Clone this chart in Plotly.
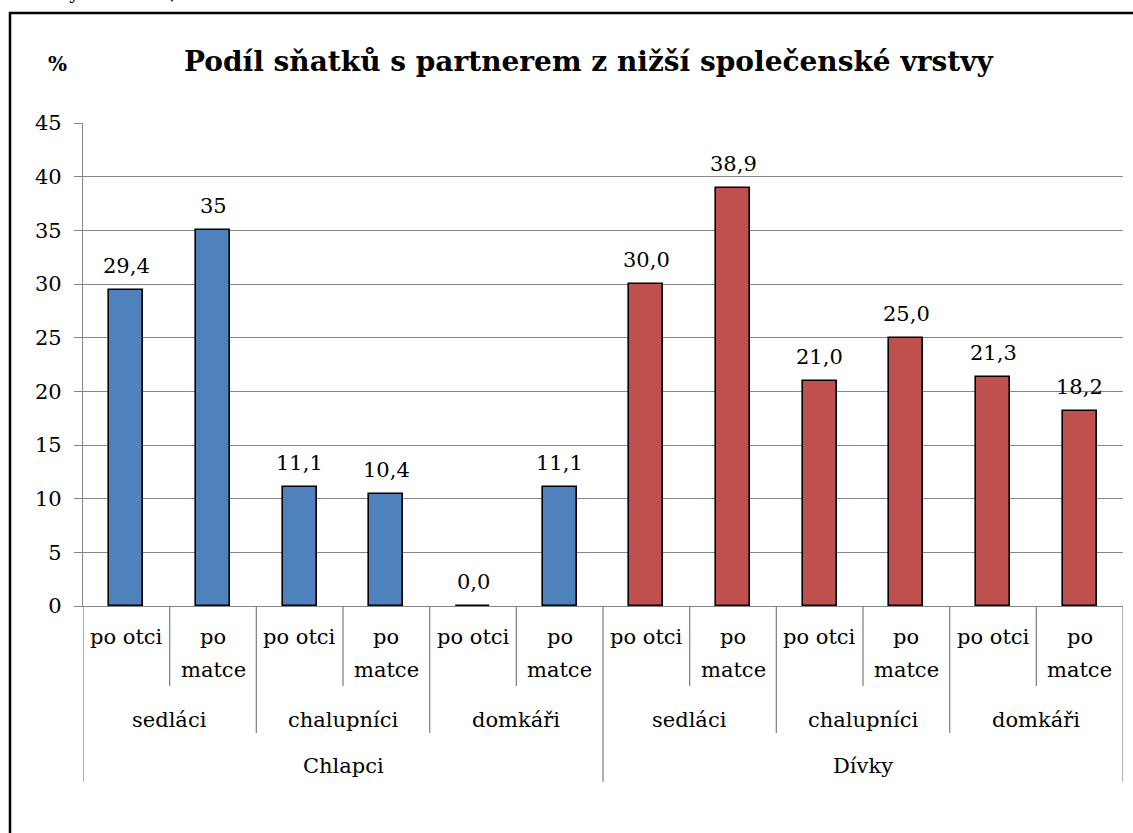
import plotly.graph_objects as go

# ---- data ----
level1 = ["po otci", "po matce"] * 6
level2 = ["sedláci", "chalupníci", "domkáři"] * 2
level3 = ["Chlapci", "Dívky"]
values = [29.4, 35.0, 11.1, 10.4, 0.0, 11.1, 30.0, 38.9, 21.0, 25.0, 21.3, 18.2]
value_labels = ["29,4", "35", "11,1", "10,4", "0,0", "11,1", "30,0", "38,9", "21,0", "25,0", "21,3", "18,2"]
y_ticks = [0, 5, 10, 15, 20, 25, 30, 35, 40, 45]
title = "Podíl sňatků s partnerem z nižší společenské vrstvy"
header = "Novorychnovsko, 1804-1880"

W, H = 1133, 833
L, R, T, B = 83, 10, 123, 227
PW, PH = W - L - R, H - T - B
FONT = "DejaVu Serif, Liberation Serif, Times New Roman, serif"
LBL = 21

def py(pix):  # pixel y -> paper y
    return (H - B - pix) / PH

def px(pix):
    return (pix - L) / PW

blue, red = "#4F81BD", "#C0504D"
n = len(values)
xs = list(range(n))
colors = [blue] * 6 + [red] * 6

fig = go.Figure()
fig.add_trace(go.Bar(
    x=xs, y=values, width=0.39,
    marker=dict(color=colors, line=dict(color="black", width=1.6)),
    hoverinfo="skip",
))

annotations = []
shapes = []
txt = dict(family=FONT, size=LBL, color="black")

def lab_ann(x, ypix, text):
    return dict(x=x, y=py(ypix), xref="x", yref="paper", text=text,
                xanchor="center", yanchor="middle", showarrow=False, font=txt)

# value labels
for i, (v, lab) in enumerate(zip(values, value_labels)):
    annotations.append(dict(x=i, y=v, xref="x", yref="y", text=lab,
                            xanchor="center", yanchor="middle",
                            yshift=24, showarrow=False, font=txt))
# level 1 labels
for i, lab in enumerate(level1):
    if lab == "po otci":
        annotations.append(lab_ann(i, 637, "po otci"))
    else:
        annotations.append(lab_ann(i, 637, "po"))
        annotations.append(lab_ann(i, 670, "matce"))
# level 2 labels
for g, lab in enumerate(level2):
    annotations.append(lab_ann(2 * g + 0.5, 720, lab))
# level 3 labels
for g, lab in enumerate(level3):
    annotations.append(lab_ann(6 * g + 2.5, 766, lab))

# separators
gray = "#868686"
for k in range(n + 1):
    xb = k - 0.5
    if k % 6 == 0:
        bottom = 782
    elif k % 2 == 0:
        bottom = 733
    else:
        bottom = 686
    shapes.append(dict(type="line", xref="x", yref="paper", x0=xb, x1=xb,
                       y0=0, y1=py(bottom), line=dict(color=gray, width=1.3)))

# outer frame
shapes.append(dict(type="rect", xref="paper", yref="paper",
                   x0=px(10), x1=px(1145), y0=py(13), y1=py(845),
                   line=dict(color="black", width=2.5), layer="below"))

# title and % and header
annotations.append(dict(x=px(588), y=py(62), xref="paper", yref="paper", text="<b>" + title + "</b>",
                        xanchor="center", yanchor="middle",
                        showarrow=False, font=dict(family=FONT, size=28, color="black")))
annotations.append(dict(x=px(57), y=py(64), xref="paper", yref="paper", text="<b>%</b>",
                        xanchor="center", yanchor="middle",
                        showarrow=False, font=dict(family=FONT, size=20, color="black")))
annotations.append(dict(x=px(8), y=py(5), xref="paper", yref="paper", text=header,
                        xanchor="left", yanchor="bottom",
                        showarrow=False, font=dict(family=FONT, size=19, color="black")))

fig.update_layout(
    width=W, height=H,
    margin=dict(l=L, r=R, t=T, b=B),
    paper_bgcolor="white", plot_bgcolor="white",
    showlegend=False,
    bargap=0,
    font=dict(family=FONT),
    xaxis=dict(range=[-0.5, n - 0.5], showticklabels=False, showgrid=False,
               zeroline=False, showline=True, linecolor=gray, linewidth=1.3,
               ticks="", fixedrange=True),
    yaxis=dict(range=[0, 45], tickvals=y_ticks, ticktext=[str(v) for v in y_ticks],
               showgrid=True, gridcolor=gray, gridwidth=1.3,
               zeroline=False, showline=True, linecolor=gray, linewidth=1.3,
               ticks="outside", ticklen=8, tickcolor=gray, tickwidth=1.3,
               ticklabelstandoff=8,
               tickfont=dict(family=FONT, size=21, color="black"), fixedrange=True),
    annotations=annotations,
    shapes=shapes,
)

fig.write_html("out.html", config={"displayModeBar": False},
               post_script="document.body.style.margin='0';")
